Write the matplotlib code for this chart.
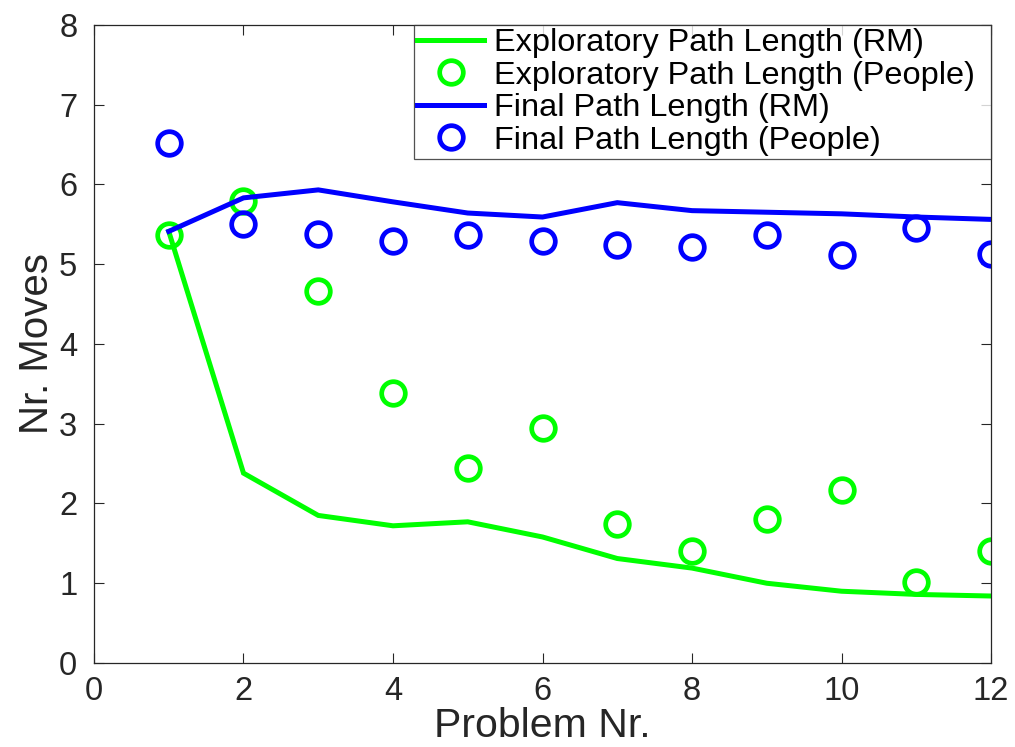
import matplotlib
matplotlib.use("Agg")
import matplotlib.pyplot as plt

# Problem numbers and average move counts
problems = [1, 2, 3, 4, 5, 6, 7, 8, 9, 10, 11, 12]
explore_rm = [5.41, 2.38, 1.85, 1.72, 1.77, 1.58, 1.31, 1.19, 1.00, 0.90, 0.86, 0.84]
explore_people = [5.36, 5.79, 4.66, 3.38, 2.44, 2.95, 1.74, 1.41, 1.81, 2.17, 1.02, 1.41]
final_rm = [5.41, 5.83, 5.93, 5.78, 5.64, 5.59, 5.77, 5.67, 5.65, 5.63, 5.59, 5.56]
final_people = [6.52, 5.50, 5.38, 5.29, 5.36, 5.29, 5.24, 5.22, 5.36, 5.11, 5.45, 5.13]

x_ticks = [0, 2, 4, 6, 8, 10, 12]
y_ticks = [0, 1, 2, 3, 4, 5, 6, 7, 8]

plt.rcParams['font.family'] = ['Liberation Sans', 'DejaVu Sans']

GREEN = '#00ff00'
BLUE = '#0000ff'
DARK = '#262626'

fig = plt.figure(figsize=(10.15, 7.47), dpi=100)
ax = fig.add_axes([0.0926, 0.1124, 0.8838, 0.8545])

ax.plot(problems, explore_rm, color=GREEN, lw=3.6, solid_joinstyle='miter',
        label='Exploratory Path Length (RM)')
ax.plot(problems, explore_people, ls='none', marker='o', ms=17, mfc='none',
        mec=GREEN, mew=3.4, label='Exploratory Path Length (People)')
ax.plot(problems, final_rm, color=BLUE, lw=3.6, solid_joinstyle='miter',
        label='Final Path Length (RM)')
ax.plot(problems, final_people, ls='none', marker='o', ms=17, mfc='none',
        mec=BLUE, mew=3.4, label='Final Path Length (People)')

ax.set_xlim(0, 12)
ax.set_ylim(0, 8)
ax.set_xticks(x_ticks)
ax.set_yticks(y_ticks)
ax.tick_params(direction='in', length=7, width=0.8, colors=DARK,
               labelsize=23.5, top=True, right=True)
ax.tick_params(axis='x', pad=9)
ax.tick_params(axis='y', pad=12)
for sp in ax.spines.values():
    sp.set_color(DARK)
    sp.set_linewidth(0.9)
    sp.set_clip_on(False)

ax.set_xlabel('Problem Nr.', fontsize=29.5, color=DARK, labelpad=0)
ax.set_ylabel('Nr. Moves', fontsize=29, color=DARK, labelpad=2)

# legend box stretched across the upper-right corner of the axes
leg = ax.legend(loc='upper right', bbox_to_anchor=(0.3567, 0.0, 0.6433, 1.0),
                mode='expand', fontsize=23.4, frameon=True, fancybox=False,
                borderaxespad=0, borderpad=0.1, labelspacing=0.08,
                handlelength=2.05, handletextpad=0.3)
leg.get_frame().set_edgecolor(DARK)
leg.get_frame().set_linewidth(0.9)
for t in leg.get_texts():
    t.set_color('black')

fig.savefig('out.png', dpi=100)
